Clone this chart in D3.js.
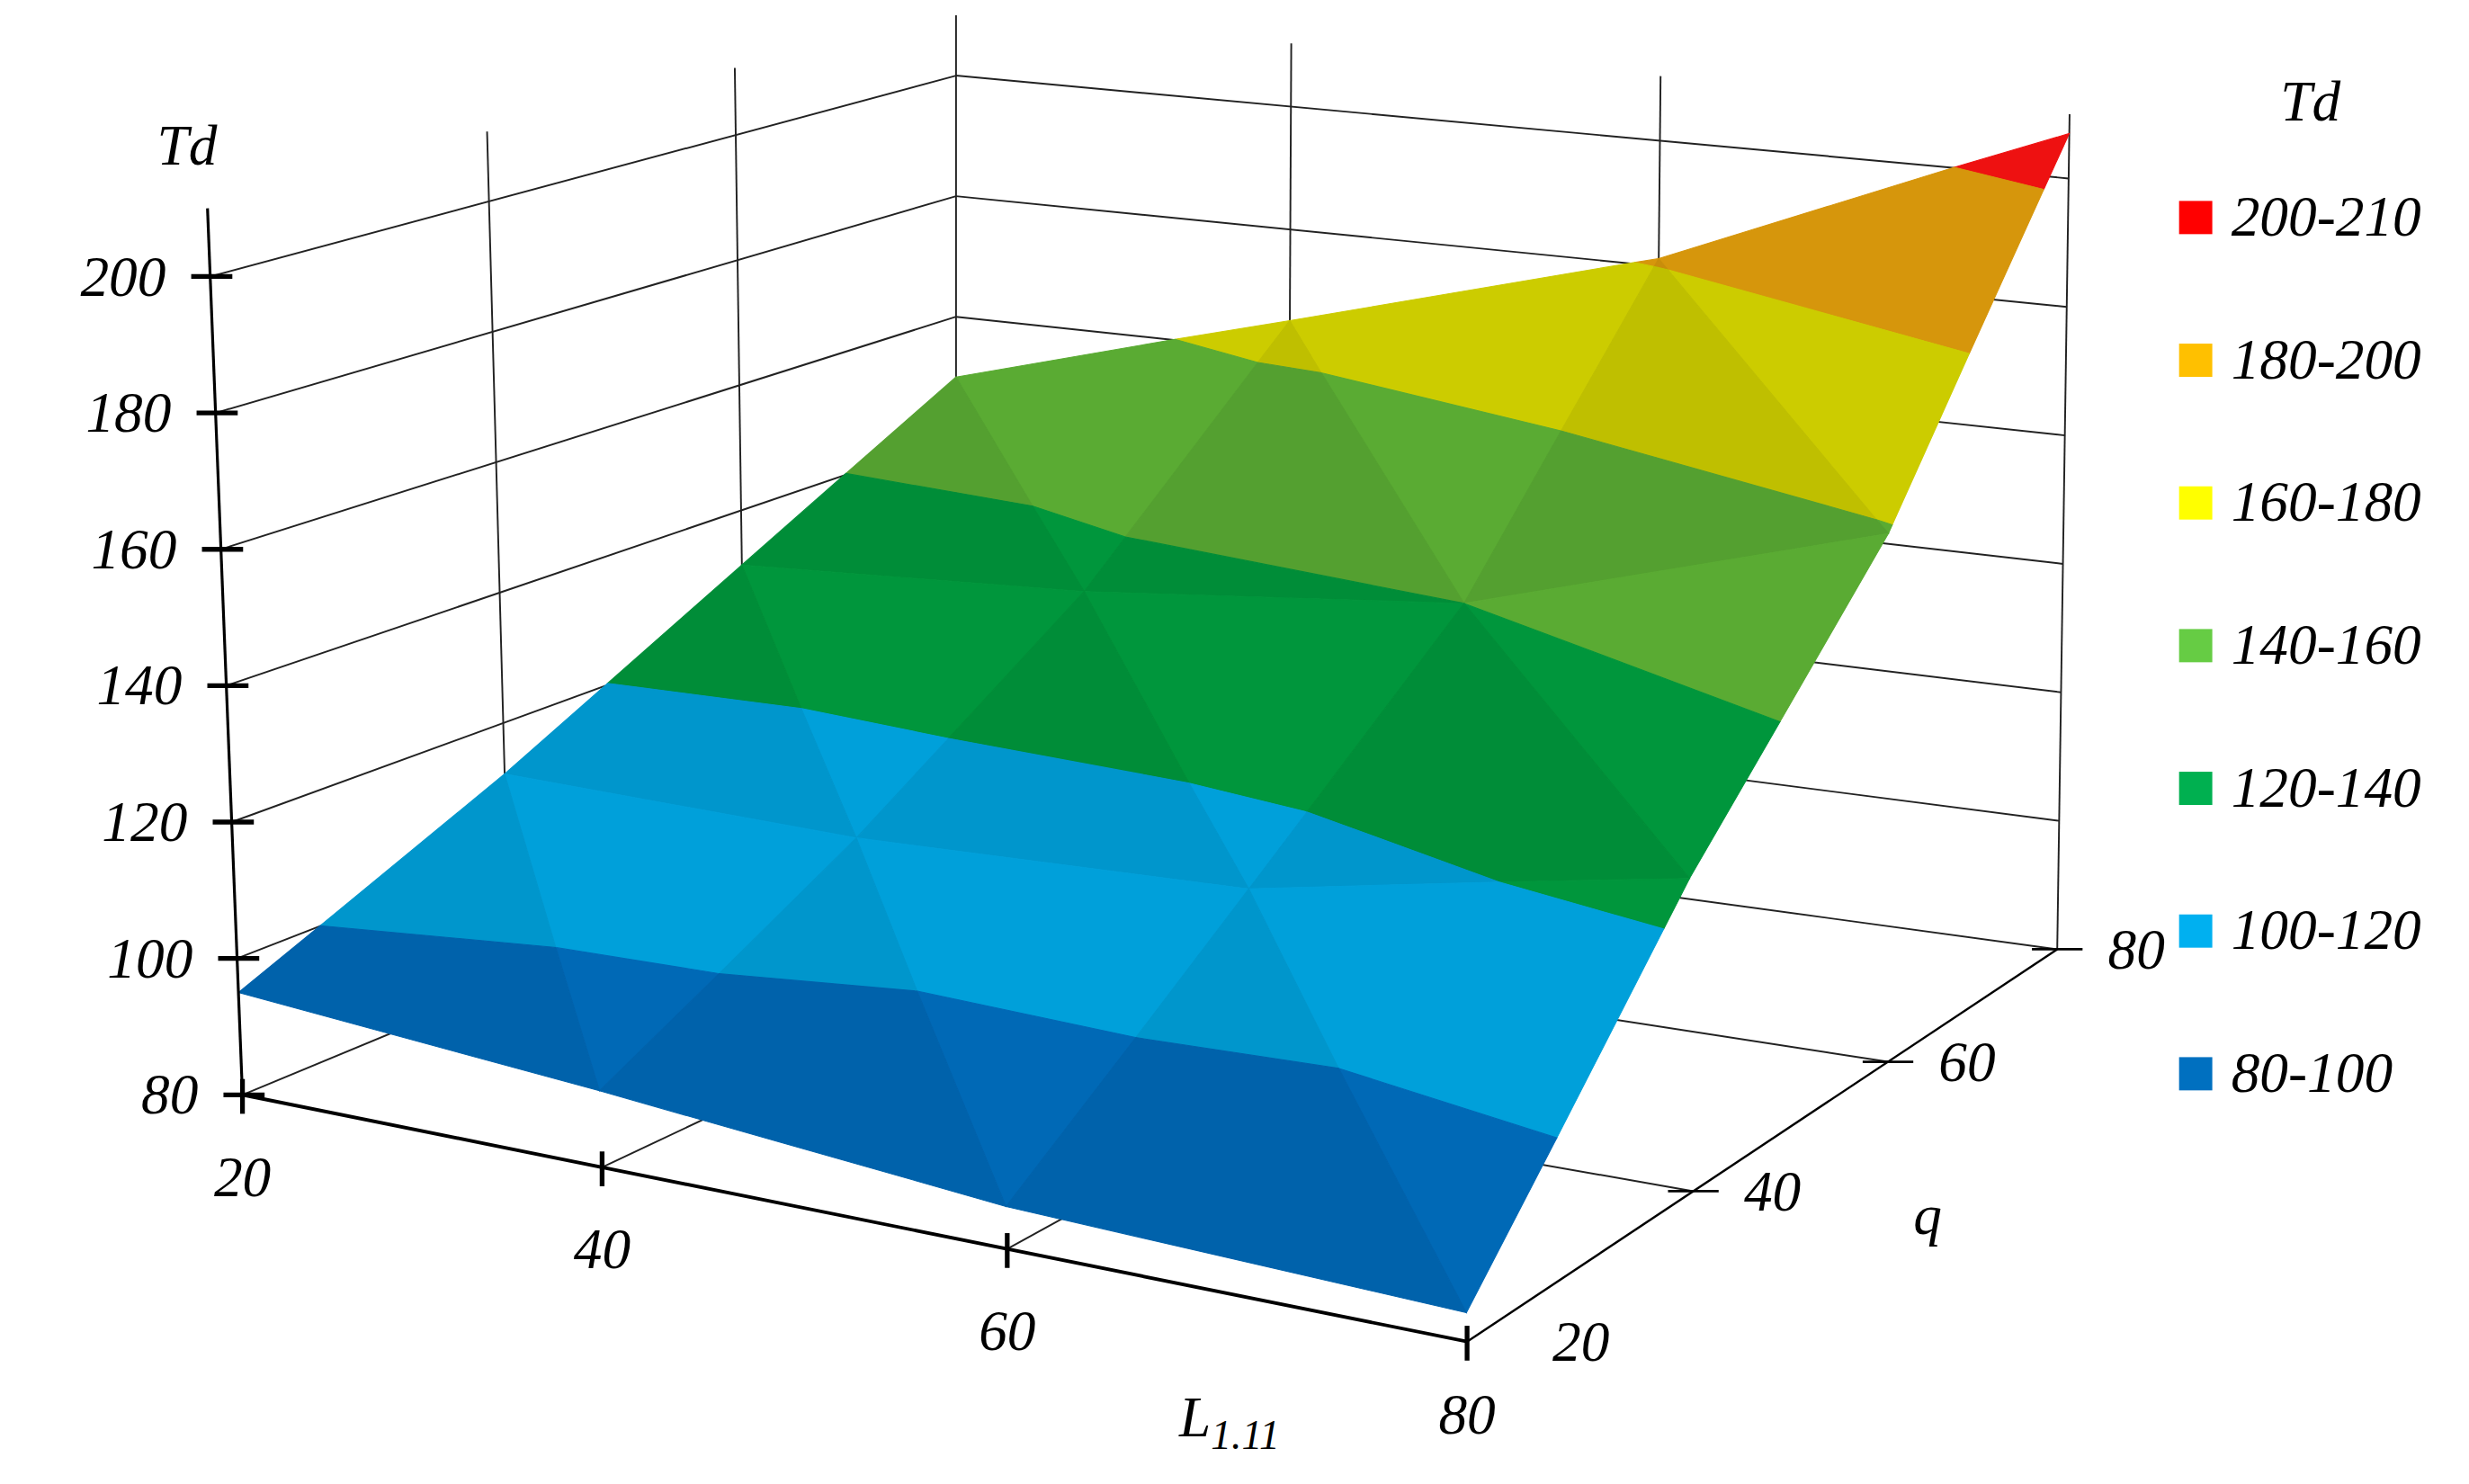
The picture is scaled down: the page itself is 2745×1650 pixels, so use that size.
<!DOCTYPE html>
<html><head><meta charset="utf-8">
<script src="https://cdn.jsdelivr.net/npm/d3@7"></script>
<style>html,body{margin:0;padding:0;background:#fff;overflow:hidden}</style>
</head><body>
<svg id="c" width="2745" height="1650" viewBox="0 0 1560 938"></svg>
<script>
// ---- data ----
const Lvals = [20, 40, 60, 80];
const qvals = [20, 40, 60, 80];
// Td[qIndex][LIndex]
const Td_q20 = [95, 91, 86, 84];
const Td_q40 = [112, 111, 113, 125];
const Td_q60 = [131, 134, 140, 159];
const Td_q80 = [150, 165, 181, 207];
const TdRows = [Td_q20, Td_q40, Td_q60, Td_q80];
const tdTicks = [80, 100, 120, 140, 160, 180, 200];
const LTicks = [20, 40, 60, 80];
const qTicks = [20, 40, 60, 80];
const bandLo = [200, 180, 160, 140, 120, 100, 80];
const bandHi = [210, 200, 180, 160, 140, 120, 100];
const bandLabels = ["200-210", "180-200", "160-180", "140-160", "120-140", "100-120", "80-100"];
const legendColors = ["#ff0000", "#ffc000", "#ffff00", "#66cc44", "#00b050", "#00b0f0", "#0070c0"];
const surfColors = ["#ee1111", "#d6960c", "#cccc00", "#5aab33", "#00963c", "#00a0da", "#0069b6"];

// ---- projection ----
const uS = d3.scaleLinear().domain([20, 80]).range([0, 1]);
const vS = d3.scaleLinear().domain([20, 80]).range([0, 1]);
const zS = d3.scaleLinear().domain([80, 200]).range([0, 120]);
const P0 = [153, 692], P1 = [927, 848], P2 = [1300, 600], P3 = [604, 505];
const UP = {A: [-0.17, -4.31], B: [-0.11, -4.56], C: [0.06, -4.06], D: [0, -3.81]};
const H = (() => {
  const [x0, y0] = P0, [x1, y1] = P1, [x2, y2] = P2, [x3, y3] = P3;
  const dx1 = x1 - x2, dx2 = x3 - x2, dx3 = x0 - x1 + x2 - x3;
  const dy1 = y1 - y2, dy2 = y3 - y2, dy3 = y0 - y1 + y2 - y3;
  const den = dx1 * dy2 - dx2 * dy1;
  const g = (dx3 * dy2 - dx2 * dy3) / den, h = (dx1 * dy3 - dx3 * dy1) / den;
  return {a: x1 - x0 + g * x1, b: x3 - x0 + h * x3, c: x0, d: y1 - y0 + g * y1, e: y3 - y0 + h * y3, f: y0, g, h};
})();
function proj(u, v, z) {
  const w = H.g * u + H.h * v + 1;
  const x = (H.a * u + H.b * v + H.c) / w, y = (H.d * u + H.e * v + H.f) / w;
  const ux = UP.A[0] * (1 - u) * (1 - v) + UP.B[0] * u * (1 - v) + UP.C[0] * u * v + UP.D[0] * (1 - u) * v;
  const uy = UP.A[1] * (1 - u) * (1 - v) + UP.B[1] * u * (1 - v) + UP.C[1] * u * v + UP.D[1] * (1 - u) * v;
  return [x + ux * z, y + uy * z];
}
const P = (L, q, td) => proj(uS(L), vS(q), zS(td));

const svg = d3.select("#c");
const font = "'Liberation Serif', 'DejaVu Serif', serif";
const line = (a, b, w = 1.1, col = "#222") => svg.append("line")
  .attr("x1", a[0]).attr("y1", a[1]).attr("x2", b[0]).attr("y2", b[1])
  .attr("stroke", col).attr("stroke-width", w);

// ---- walls / grid ----
tdTicks.forEach(t => {
  line(P(20, 20, t), P(20, 80, t));
  line(P(20, 80, t), P(80, 80, t));
});
[40, 60, 80].forEach(q => line(P(20, q, 80), P(20, q, 210)));
[40, 60, 80].forEach(L => line(P(L, 80, 80), P(L, 80, 210)));
[40, 60].forEach(q => line(P(20, q, 80), P(80, q, 80)));
[40, 60].forEach(L => line(P(L, 20, 80), P(L, 80, 80)));

// ---- surface ----
function clip(poly, val, keepAbove) {
  const out = [];
  for (let i = 0; i < poly.length; i++) {
    const a = poly[i], b = poly[(i + 1) % poly.length];
    const ia = keepAbove ? a[2] >= val : a[2] <= val;
    const ib = keepAbove ? b[2] >= val : b[2] <= val;
    if (ia) out.push(a);
    if (ia !== ib) {
      const t = (val - a[2]) / (b[2] - a[2]);
      out.push([a[0] + t * (b[0] - a[0]), a[1] + t * (b[1] - a[1]), val]);
    }
  }
  return out;
}
const tris = [];
for (let j = qvals.length - 2; j >= 0; j--) {
  for (let i = 0; i < Lvals.length - 1; i++) {
    const c = (ii, jj) => [Lvals[ii], qvals[jj], TdRows[jj][ii]];
    tris.push({pts: [c(i, j + 1), c(i + 1, j + 1), c(i + 1, j)], dark: false});
    tris.push({pts: [c(i, j + 1), c(i + 1, j), c(i, j)], dark: true});
  }
}
tris.forEach(tr => {
  bandLo.forEach((lo, k) => {
    let poly = clip(tr.pts, lo, true);
    if (poly.length < 3) return;
    poly = clip(poly, bandHi[k], false);
    if (poly.length < 3) return;
    let col = d3.color(surfColors[k]);
    if (tr.dark) col = col.darker(0.18);
    const pts = poly.map(p => P(p[0], p[1], p[2]));
    svg.append("path").attr("d", "M" + pts.map(p => p.join(",")).join("L") + "Z")
      .attr("fill", col).attr("stroke", col).attr("stroke-width", 0.6);
  });
});

// ---- axes ----
line(P(20, 20, 80), P(20, 20, 210), 1.8, "#000");
tdTicks.forEach(t => {
  const p = P(20, 20, t);
  line([p[0] - 12, p[1]], [p[0] + 14, p[1]], 3, "#000");
  svg.append("text").attr("x", p[0] - 28).attr("y", p[1] + 12).attr("text-anchor", "end")
    .attr("font-family", font).attr("font-style", "italic").attr("font-size", 36).text(t);
});
line(P(20, 20, 80), P(80, 20, 80), 2.2, "#000");
LTicks.forEach(L => {
  const p = P(L, 20, 80);
  line([p[0], p[1] - 10], [p[0], p[1] + 12], 3, "#000");
  svg.append("text").attr("x", p[0]).attr("y", p[1] + 64 - (L === 80 ? 6 : 0)).attr("text-anchor", "middle")
    .attr("font-family", font).attr("font-style", "italic").attr("font-size", 36).text(L);
});
line(P(80, 20, 80), P(80, 80, 80), 1.4, "#000");
qTicks.forEach(q => {
  const p = P(80, q, 80);
  if (q > 20) line([p[0] - 16, p[1]], [p[0] + 16, p[1]], 1.6, "#000");
  svg.append("text").attr("x", p[0] + (q === 20 ? 72 : 50)).attr("y", p[1] + 12).attr("text-anchor", "middle")
    .attr("font-family", font).attr("font-style", "italic").attr("font-size", 36).text(q);
});
svg.append("text").attr("x", 118).attr("y", 104).attr("text-anchor", "middle")
  .attr("font-family", font).attr("font-style", "italic").attr("font-size", 36).text("Td");
const lt = svg.append("text").attr("x", 745).attr("y", 908)
  .attr("font-family", font).attr("font-style", "italic").attr("font-size", 36);
lt.append("tspan").text("L");
lt.append("tspan").attr("font-size", 26).attr("dy", 8).text("1.11");
svg.append("text").attr("x", 1218).attr("y", 780).attr("text-anchor", "middle")
  .attr("font-family", font).attr("font-style", "italic").attr("font-size", 36).text("q");

// ---- legend ----
svg.append("text").attr("x", 1460).attr("y", 76).attr("text-anchor", "middle")
  .attr("font-family", font).attr("font-style", "italic").attr("font-size", 36).text("Td");
bandLabels.forEach((lab, k) => {
  const y = 137 + k * 90.2;
  svg.append("rect").attr("x", 1377).attr("y", y - 10).attr("width", 21).attr("height", 21).attr("fill", legendColors[k]);
  svg.append("text").attr("x", 1410).attr("y", y + 12).attr("font-family", font)
    .attr("font-style", "italic").attr("font-size", 36).text(lab);
});
</script>
</body></html>
